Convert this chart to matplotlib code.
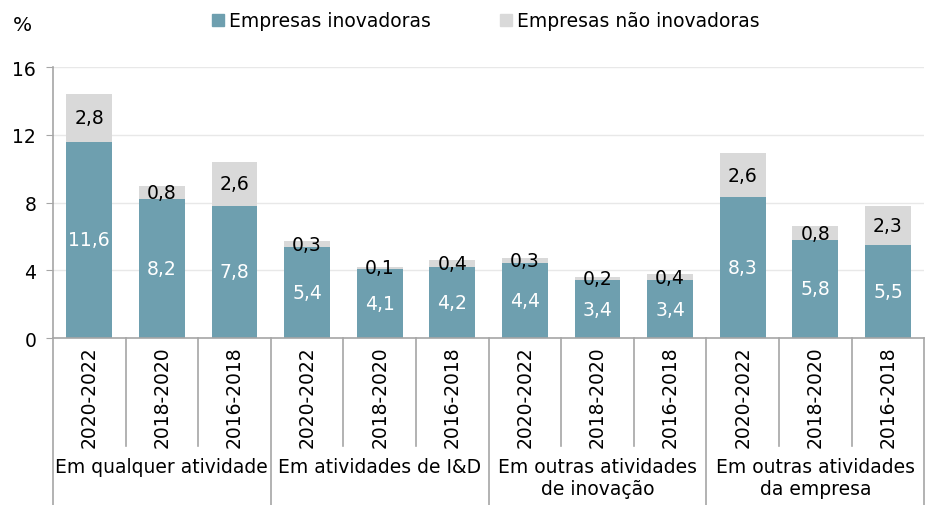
import matplotlib
matplotlib.use("Agg")
import matplotlib.pyplot as plt
import numpy as np
from matplotlib.lines import Line2D
from matplotlib.transforms import blended_transform_factory

# dados
periodos = ['2020-2022', '2018-2020', '2016-2018'] * 4
grupos = ['Em qualquer atividade', 'Em atividades de I&D',
          'Em outras atividades\nde inovação', 'Em outras atividades\nda empresa']
inovadoras = [11.6, 8.2, 7.8, 5.4, 4.1, 4.2, 4.4, 3.4, 3.4, 8.3, 5.8, 5.5]
nao_inovadoras = [2.8, 0.8, 2.6, 0.3, 0.1, 0.4, 0.3, 0.2, 0.4, 2.6, 0.8, 2.3]
yticks = [0, 4, 8, 12, 16]

cor_inov = '#6E9FAF'
cor_nao = '#D9D9D9'
cor_eixo = '#A6A6A6'
fs = 13.5

plt.rcParams['font.family'] = ['DejaVu Sans']

fig = plt.figure(figsize=(9.28, 5.06), dpi=100)
ax = fig.add_axes([0.057, 0.330, 0.939, 0.5356])

x = np.arange(len(inovadoras))
w = 0.63
b1 = ax.bar(x, inovadoras, width=w, color=cor_inov, zorder=2)
b2 = ax.bar(x, nao_inovadoras, width=w, bottom=inovadoras, color=cor_nao, zorder=2)

def fmt(v):
    return ('%.1f' % v).replace('.', ',')

ax.bar_label(b1, labels=[fmt(v) for v in inovadoras], label_type='center',
             color='white', fontsize=fs)
ax.bar_label(b2, labels=[fmt(v) for v in nao_inovadoras], label_type='center',
             color='black', fontsize=fs)

ax.set_xlim(-0.5, len(x) - 0.5)
ax.set_ylim(0, 16)
ax.set_yticks(yticks)
ax.set_yticklabels([str(t) for t in yticks], fontsize=fs)
ax.yaxis.grid(True, color='#E8E8E8', linewidth=1, zorder=0)
ax.set_xticks([])
for s in ['top', 'right']:
    ax.spines[s].set_visible(False)
ax.spines['left'].set_color(cor_eixo)
ax.spines['bottom'].set_color(cor_eixo)
ax.spines['left'].set_linewidth(1.2)
ax.spines['bottom'].set_linewidth(1.2)
ax.tick_params(axis='y', direction='out', length=5, color=cor_eixo, pad=7)

# eixo de categorias em dois niveis
tr = blended_transform_factory(ax.transData, ax.transAxes)
for i in range(len(x) + 1):
    pos = i - 0.5
    fundo = -0.63 if i % 3 == 0 else -0.398
    ax.add_line(Line2D([pos, pos], [0, fundo], transform=tr, color=cor_eixo,
                       linewidth=1.2, clip_on=False))
for i, p in enumerate(periodos):
    ax.text(i, -0.026, p, transform=tr, rotation=90, ha='center', va='top',
            fontsize=fs)
for g, nome in enumerate(grupos):
    ax.text(3 * g + 1, -0.44, nome, transform=tr, ha='center', va='top',
            fontsize=fs, linespacing=1.2)

fig.text(0.014, 0.95, '%', fontsize=14.5, ha='left', va='center')

handles = [Line2D([], [], marker='s', linestyle='none', color=cor_inov, markersize=9),
           Line2D([], [], marker='s', linestyle='none', color=cor_nao, markersize=9)]
fig.legend(handles, ['Empresas inovadoras', 'Empresas não inovadoras'],
           loc='center', bbox_to_anchor=(0.523, 0.957), ncol=2, frameon=False,
           fontsize=fs, handlelength=0.8, handletextpad=0.2, columnspacing=3.6)

fig.savefig('out.png', dpi=100)
